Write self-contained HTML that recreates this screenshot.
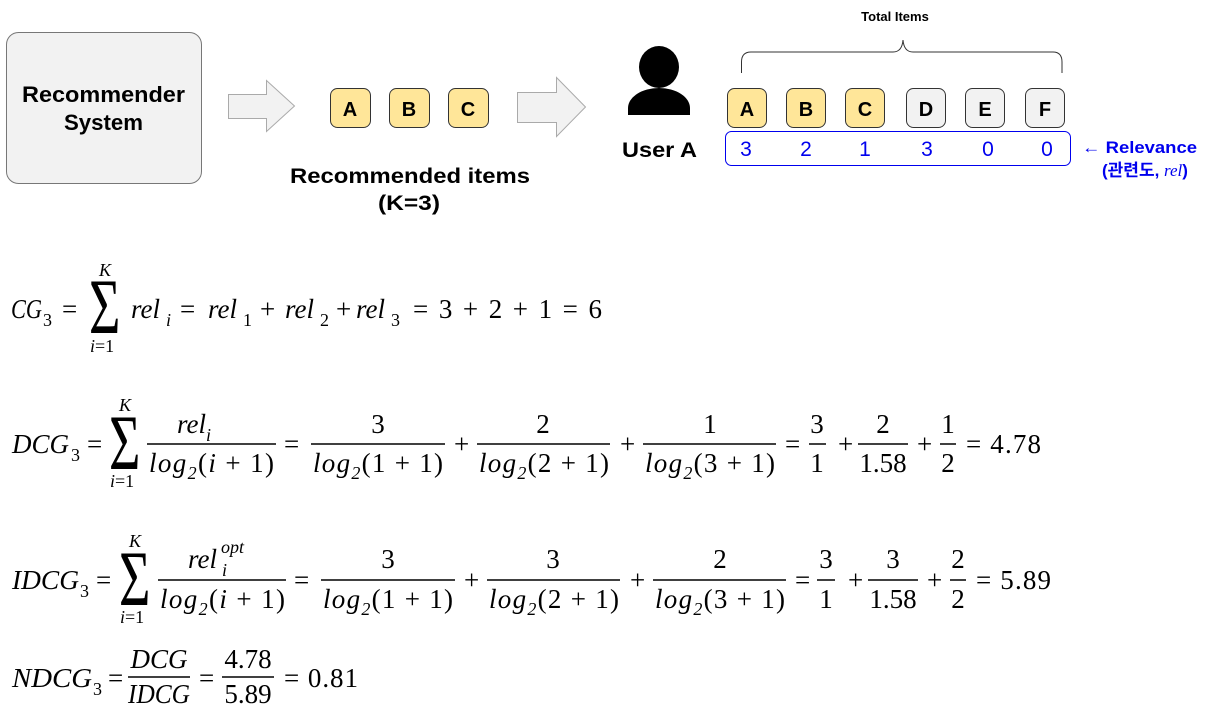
<!DOCTYPE html>
<html><head><meta charset="utf-8"><style>
html,body{margin:0;padding:0;background:#fff;}
svg{display:block;}
.b{font-family:"Liberation Sans","Noto Sans CJK KR",sans-serif;font-weight:bold;}
.m{font-family:"Liberation Serif","DejaVu Serif",serif;font-size:27px;fill:#000;}
.i{font-style:italic;}
.s{font-size:18px;}
</style></head><body>
<svg width="1221" height="722" viewBox="0 0 1221 722" xmlns="http://www.w3.org/2000/svg">
<rect x="6.5" y="32.5" width="195" height="151" rx="12" fill="#f2f2f2" stroke="#777"/>
<text class="b" x="22" y="102" font-size="22" textLength="163" lengthAdjust="spacingAndGlyphs">Recommender</text>
<text class="b" x="64" y="130" font-size="22" textLength="79" lengthAdjust="spacingAndGlyphs">System</text>
<path d="M228.5 94.5H266.5V80.5L294.5 106L266.5 131.5V118.5H228.5Z" fill="#f2f2f2" stroke="#aaa"/>
<path d="M517.5 92.5H556.5V77.5L585.5 107L556.5 136.5V122.5H517.5Z" fill="#f2f2f2" stroke="#aaa"/>
<g fill="#ffe699" stroke="#333">
<rect x="330.5" y="88.5" width="40" height="39" rx="7"/>
<rect x="389.5" y="88.5" width="40" height="39" rx="7"/>
<rect x="448.5" y="88.5" width="40" height="39" rx="7"/>
<rect x="727.5" y="88.5" width="39" height="39" rx="7"/>
<rect x="786.5" y="88.5" width="39" height="39" rx="7"/>
<rect x="845.5" y="88.5" width="39" height="39" rx="7"/>
</g>
<g fill="#f2f2f2" stroke="#333">
<rect x="906.5" y="88.5" width="39" height="39" rx="7"/>
<rect x="965.5" y="88.5" width="39" height="39" rx="7"/>
<rect x="1025.5" y="88.5" width="39" height="39" rx="7"/>
</g>
<g class="b" font-size="20" text-anchor="middle">
<text x="350" y="116">A</text><text x="409" y="116">B</text><text x="468" y="116">C</text>
<text x="747" y="116">A</text><text x="806" y="116">B</text><text x="865" y="116">C</text>
<text x="926" y="116">D</text><text x="985" y="116">E</text><text x="1045" y="116">F</text>
<text x="895" y="21" font-size="13">Total Items</text>
</g>
<g class="b" font-size="21">
<text x="290" y="183" textLength="240" lengthAdjust="spacingAndGlyphs">Recommended items</text>
<text x="378" y="210" textLength="62" lengthAdjust="spacingAndGlyphs">(K=3)</text>
<text x="622" y="157" textLength="75" lengthAdjust="spacingAndGlyphs">User A</text>
</g>
<ellipse cx="659" cy="67" rx="20" ry="21" fill="#000"/>
<path d="M628 115V108A31 20 0 0 1 690 108V115Z" fill="#000"/>
<path d="M741.5 73V62Q741.5 52 751 52H893Q902 52 903 40Q904 52 913 52H1053Q1062 52 1062 62V73" fill="none" stroke="#333"/>
<rect x="725.5" y="131.5" width="345" height="34" rx="6" fill="none" stroke="#0000ee"/>
<g font-family="Liberation Sans,sans-serif" font-size="21" fill="#0000ee" text-anchor="middle">
<text x="746" y="156">3</text><text x="806" y="156">2</text><text x="865" y="156">1</text>
<text x="927" y="156">3</text><text x="988" y="156">0</text><text x="1047" y="156">0</text>
</g>
<text class="b" x="1082" y="153" font-size="17" fill="#0000ee" textLength="115" lengthAdjust="spacingAndGlyphs">← Relevance</text>
<text class="b" x="1102" y="176" font-size="17" fill="#0000ee">(관련도, <tspan font-family="Liberation Serif,serif" font-style="italic" font-weight="normal">rel</tspan>)</text>

<g class="m">
<text x="11" y="318" class="i" textLength="31" lengthAdjust="spacingAndGlyphs">CG</text><text x="43" y="326" class="s">3</text>
<text x="62" y="318">=</text>
<text transform="translate(89,333) scale(1,1.45)" font-size="54">Σ</text>
<text x="99" y="276" class="i s">K</text>
<text x="90" y="352" class="s"><tspan class="i">i</tspan>=1</text>
<text x="131" y="318" class="i">rel</text><text x="166" y="326" class="i s">i</text>
<text x="180" y="318">=</text>
<text x="208" y="318" class="i">rel</text><text x="243" y="326" class="s">1</text>
<text x="260" y="318">+</text>
<text x="285" y="318" class="i">rel</text><text x="320" y="326" class="s">2</text>
<text x="336" y="318">+</text>
<text x="356" y="318" class="i">rel</text><text x="391" y="326" class="s">3</text>
<text x="413" y="318" textLength="189">= 3 + 2 + 1 = 6</text>
</g>

<g class="m">
<text x="12" y="453" class="i" textLength="57" lengthAdjust="spacingAndGlyphs">DCG</text><text x="71" y="461" class="s">3</text>
<text x="87" y="453">=</text>
<text transform="translate(109,469) scale(1,1.45)" font-size="54">Σ</text>
<text x="119" y="411" class="i s">K</text>
<text x="110" y="487" class="s"><tspan class="i">i</tspan>=1</text>
<text x="194" y="433" text-anchor="middle" class="i">rel<tspan class="s" dy="8">i</tspan></text>
<text x="149" y="472" textLength="125" class="i">log<tspan class="s" dy="7">2</tspan><tspan dy="-7" font-style="normal">(</tspan>i<tspan font-style="normal"> + 1)</tspan></text>
<text x="284" y="453">=</text>
<text x="378" y="433" text-anchor="middle">3</text>
<text x="313" y="472" textLength="130" class="i">log<tspan class="s" dy="7">2</tspan><tspan dy="-7" font-style="normal">(1 + 1)</tspan></text>
<text x="454" y="453">+</text>
<text x="543" y="433" text-anchor="middle">2</text>
<text x="479" y="472" textLength="130" class="i">log<tspan class="s" dy="7">2</tspan><tspan dy="-7" font-style="normal">(2 + 1)</tspan></text>
<text x="620" y="453">+</text>
<text x="710" y="433" text-anchor="middle">1</text>
<text x="645" y="472" textLength="130" class="i">log<tspan class="s" dy="7">2</tspan><tspan dy="-7" font-style="normal">(3 + 1)</tspan></text>
<text x="785" y="453">=</text>
<text x="817" y="433" text-anchor="middle">3</text><text x="817" y="472" text-anchor="middle">1</text>
<text x="838" y="453">+</text>
<text x="883" y="433" text-anchor="middle">2</text><text x="883" y="472" text-anchor="middle">1.58</text>
<text x="917" y="453">+</text>
<text x="948" y="433" text-anchor="middle">1</text><text x="948" y="472" text-anchor="middle">2</text>
<text x="966" y="453" textLength="75">= 4.78</text>
</g>
<g stroke="#000" stroke-width="1.5">
<line x1="147" y1="444" x2="276" y2="444"/><line x1="311" y1="444" x2="445" y2="444"/>
<line x1="477" y1="444" x2="610" y2="444"/><line x1="643" y1="444" x2="776" y2="444"/>
<line x1="809" y1="444" x2="826" y2="444"/><line x1="858" y1="444" x2="908" y2="444"/>
<line x1="940" y1="444" x2="956" y2="444"/>
</g>

<g class="m">
<text x="12" y="589" class="i" textLength="67" lengthAdjust="spacingAndGlyphs">IDCG</text><text x="80" y="597" class="s">3</text>
<text x="96" y="589">=</text>
<text transform="translate(119,605) scale(1,1.45)" font-size="54">Σ</text>
<text x="129" y="547" class="i s">K</text>
<text x="120" y="623" class="s"><tspan class="i">i</tspan>=1</text>
<text x="188" y="568" class="i">rel</text><text x="222" y="576" class="i s">i</text><text x="221" y="553" class="i s">opt</text>
<text x="160" y="608" textLength="125" class="i">log<tspan class="s" dy="7">2</tspan><tspan dy="-7" font-style="normal">(</tspan>i<tspan font-style="normal"> + 1)</tspan></text>
<text x="294" y="589">=</text>
<text x="388" y="568" text-anchor="middle">3</text>
<text x="323" y="608" textLength="130" class="i">log<tspan class="s" dy="7">2</tspan><tspan dy="-7" font-style="normal">(1 + 1)</tspan></text>
<text x="464" y="589">+</text>
<text x="553" y="568" text-anchor="middle">3</text>
<text x="489" y="608" textLength="130" class="i">log<tspan class="s" dy="7">2</tspan><tspan dy="-7" font-style="normal">(2 + 1)</tspan></text>
<text x="630" y="589">+</text>
<text x="720" y="568" text-anchor="middle">2</text>
<text x="655" y="608" textLength="130" class="i">log<tspan class="s" dy="7">2</tspan><tspan dy="-7" font-style="normal">(3 + 1)</tspan></text>
<text x="795" y="589">=</text>
<text x="826" y="568" text-anchor="middle">3</text><text x="826" y="608" text-anchor="middle">1</text>
<text x="848" y="589">+</text>
<text x="893" y="568" text-anchor="middle">3</text><text x="893" y="608" text-anchor="middle">1.58</text>
<text x="927" y="589">+</text>
<text x="958" y="568" text-anchor="middle">2</text><text x="958" y="608" text-anchor="middle">2</text>
<text x="976" y="589" textLength="75">= 5.89</text>
</g>
<g stroke="#000" stroke-width="1.5">
<line x1="158" y1="580" x2="286" y2="580"/><line x1="321" y1="580" x2="455" y2="580"/>
<line x1="487" y1="580" x2="620" y2="580"/><line x1="653" y1="580" x2="786" y2="580"/>
<line x1="817" y1="580" x2="835" y2="580"/><line x1="868" y1="580" x2="918" y2="580"/>
<line x1="950" y1="580" x2="966" y2="580"/>
</g>

<g class="m">
<text x="12" y="687" class="i" textLength="80" lengthAdjust="spacingAndGlyphs">NDCG</text><text x="93" y="695" class="s">3</text>
<text x="108" y="687">=</text>
<text x="159" y="668" text-anchor="middle" class="i">DCG</text>
<text x="159" y="703" text-anchor="middle" class="i" textLength="62" lengthAdjust="spacingAndGlyphs">IDCG</text>
<text x="199" y="687">=</text>
<text x="248" y="668" text-anchor="middle">4.78</text>
<text x="248" y="703" text-anchor="middle">5.89</text>
<text x="284" y="687" textLength="74">= 0.81</text>
</g>
<g stroke="#000" stroke-width="1.5">
<line x1="128" y1="677" x2="190" y2="677"/><line x1="222" y1="677" x2="274" y2="677"/>
</g>
</svg>
</body></html>
